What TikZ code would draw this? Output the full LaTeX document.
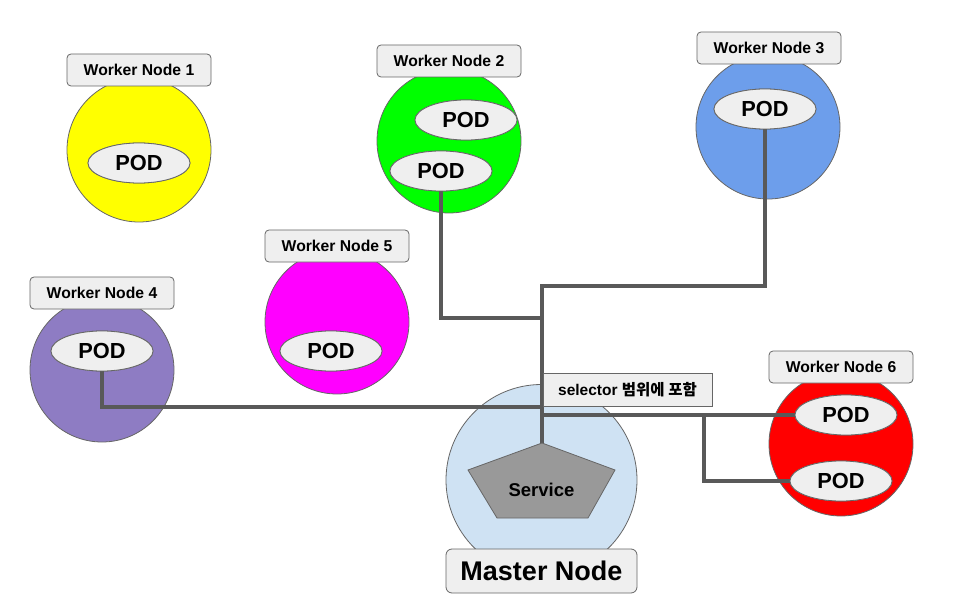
\documentclass[tikz,border=0pt]{standalone}
\usepackage{fontspec}
\setmainfont{Liberation Sans}
\newfontfamily\krfont{Noto Sans CJK KR}
\usetikzlibrary{shapes.geometric}
\definecolor{lblfill}{HTML}{EFEFEF}
\definecolor{lbldraw}{HTML}{666666}
\definecolor{conncol}{HTML}{595959}
\definecolor{c1}{HTML}{FFFF00}
\definecolor{c2}{HTML}{00FF00}
\definecolor{c3}{HTML}{6D9EEB}
\definecolor{c4}{HTML}{8E7CC3}
\definecolor{c5}{HTML}{FF00FF}
\definecolor{c6}{HTML}{FF0000}
\definecolor{cm}{HTML}{CFE2F3}
\definecolor{svcfill}{HTML}{999999}
\tikzset{
  wnode/.style={circle, draw=lbldraw, line width=0.8pt, minimum size=144pt, inner sep=0pt},
  wlabel/.style={rectangle, rounded corners=4pt, draw=lbldraw, fill=lblfill, line width=0.8pt,
    minimum width=144pt, minimum height=32pt, inner sep=0pt, font=\fontsize{15.7}{18}\selectfont\bfseries},
  pod/.style={ellipse, draw=lbldraw, fill=lblfill, line width=0.8pt, minimum width=102pt,
    minimum height=40pt, inner sep=0pt, font=\fontsize{21.8}{24}\selectfont\bfseries},
  conn/.style={draw=conncol, line width=3.5pt},
}
\begin{document}
\begin{tikzpicture}[x=1pt,y=-1pt]
\useasboundingbox (0,0) rectangle (954,599);
% circles
\node[wnode, fill=c1] (w1) at (139,150) {};
\node[wnode, fill=c2] (w2) at (449,141) {};
\node[wnode, fill=c3] (w3) at (768,127) {};
\node[wnode, fill=c4] (w4) at (102,370) {};
\node[wnode, fill=c5] (w5) at (337,322) {};
\node[wnode, fill=c6] (w6) at (841,444) {};
\node[circle, draw=lbldraw, line width=0.8pt, fill=cm, minimum size=191pt, inner sep=0pt] (m) at (541.5,480) {};
% junction coordinates
\coordinate (j1) at (542,286);
\coordinate (j2) at (542,318);
\coordinate (j3) at (542,407);
\coordinate (j4) at (542,415);
\coordinate (j5) at (704,415);
\coordinate (svctop) at (542,443);
% pods (placed before connectors for anchors, redrawn on top after)
\path (139,163) node[pod] (w1p) {POD};
\path (466,120) node[pod] (w2p1) {POD};
\path (441,171) node[pod] (w2p2) {POD};
\path (765,109) node[pod] (w3p) {POD};
\path (102,351) node[pod] (w4p) {POD};
\path (331,351) node[pod] (w5p) {POD};
\path (846,415) node[pod] (w6p1) {POD};
\path (841,481) node[pod] (w6p2) {POD};
% connectors
\draw[conn] (w3p.south) |- (j1) -- (svctop);
\draw[conn] (w2p2.south) |- (j2);
\draw[conn] (w4p.south) |- (j3);
\draw[conn] (j4) -- (w6p1.west);
\draw[conn] (j5) |- (w6p2.west);
% redraw pods on top
\path (139,163) node[pod] {POD};
\path (466,120) node[pod] {POD};
\path (441,171) node[pod] {POD};
\path (765,109) node[pod] {POD};
\path (102,351) node[pod] {POD};
\path (331,351) node[pod] {POD};
\path (846,415) node[pod] {POD};
\path (841,481) node[pod] {POD};
% service pentagon
\draw[lbldraw, line width=0.8pt, fill=svcfill] (svctop) -- (615,470) -- (588,518) -- (497,518) -- (468,470) -- cycle;
\node[font=\fontsize{18.5}{20}\selectfont\bfseries] (svc) at (541.5,490) {Service};
% labels
\node[wlabel] (l1) at (139,70) {Worker Node 1};
\node[wlabel] (l2) at (449,61) {Worker Node 2};
\node[wlabel] (l3) at (769,48) {Worker Node 3};
\node[wlabel] (l4) at (102,293) {Worker Node 4};
\node[wlabel] (l5) at (337,246) {Worker Node 5};
\node[wlabel] (l6) at (841,367) {Worker Node 6};
\node[rectangle, draw=lbldraw, fill=lblfill, line width=0.8pt, minimum width=169pt, minimum height=33pt,
  inner sep=0pt, font=\fontsize{15.5}{18}\selectfont\bfseries] (sel) at (627.5,389.5) {selector {\krfont\bfseries 범위에 포함}};
\node[rectangle, rounded corners=6pt, draw=lbldraw, fill=lblfill, line width=0.8pt, minimum width=191pt,
  minimum height=44pt, inner sep=0pt, font=\fontsize{27}{30}\selectfont\bfseries] (ml) at (541.5,571) {Master Node};
\end{tikzpicture}
\end{document}
